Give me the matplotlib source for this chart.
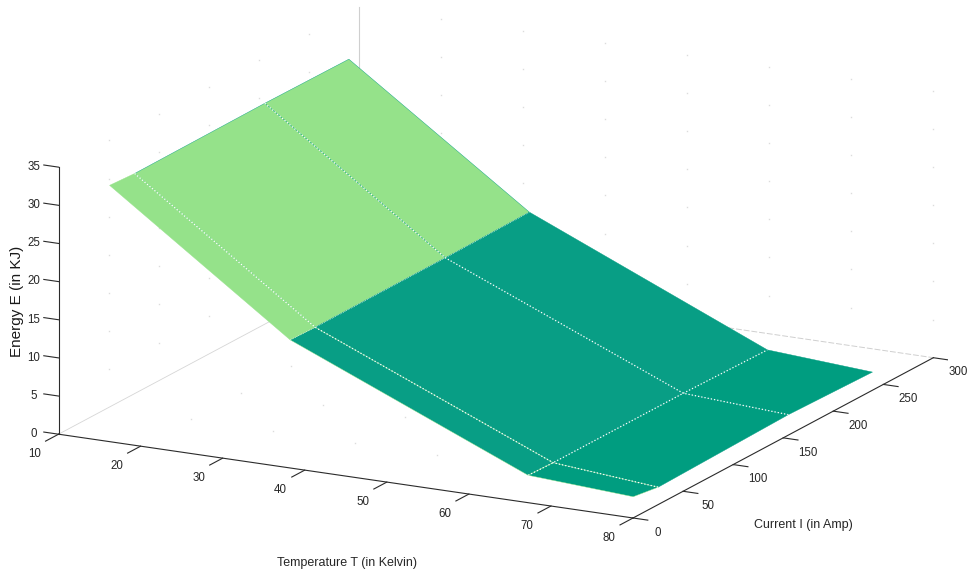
import matplotlib
matplotlib.use("Agg")
import matplotlib.pyplot as plt
import numpy as np
from matplotlib.colors import to_rgba

# surface
temps = [15, 37, 66, 78.8]
currents = [10, 35, 165, 249]
energy = [
    [32.7, 32.5, 32.6, 32.5],
    [15.9, 15.8, 15.8, 15.9],
    [2.7, 2.6, 2.6, 2.4],
    [1.9, 1.4, 1.8, 1.5],
]
# colour of each strip between two temperatures
strip_colors = ["#95e28a", "#089e85", "#009d80"]

t_ticks = [10, 20, 30, 40, 50, 60, 70, 80]
i_ticks = [0, 50, 100, 150, 200, 250, 300]
e_ticks = [0, 5, 10, 15, 20, 25, 30, 35]

plt.rcParams["font.family"] = ["Liberation Sans", "DejaVu Sans"]
text_col = "#262626"

fig = plt.figure(figsize=(9.67, 5.71), dpi=100)
ax = fig.add_axes([18.4 / 967, -169 / 571, 930 / 967, 930 / 571], projection="3d", proj_type="ortho")
ax.set_box_aspect((1, 1, 0.429))
ax.view_init(elev=16.2, azim=-62.4)
ax.set_xlim(10, 80)
ax.set_ylim(0, 300)
ax.set_zlim(0, 35)
ax.set_xticks([])
ax.set_yticks([])
ax.set_zticks([])
ax.set_axis_off()
ax.computed_zorder = False

# the grid only shows as faint specks where its lines cross
speck = dict(color="#dcdcdc", ls="none", marker="s", ms=1.0, mew=0, zorder=1)
for t in t_ticks[1:]:
    for i in i_ticks[1:-1]:
        ax.plot([t], [i], [0], **speck)
    for e in e_ticks[1:]:
        ax.plot([t], [300], [e], **speck)
for i in i_ticks[1:-1]:
    for e in e_ticks[1:]:
        ax.plot([10], [i], [e], **speck)

# back box edges
ax.plot([10, 10], [0, 300], [0, 0], color="#d6d6d6", lw=0.6, zorder=1.5)
ax.plot([10, 80], [300, 300], [0, 0], color="#cfcfcf", lw=0.7, ls=(0, (6, 2)), zorder=1.5)
ax.plot([10, 10], [300, 300], [0, 35], color="#cfcfcf", lw=0.8, zorder=1.5)

# surface
TT, II = np.meshgrid(temps, currents, indexing="ij")
EE = np.array(energy)
face = np.zeros(TT.shape + (4,))
for r in range(len(temps) - 1):
    face[r, :] = to_rgba(strip_colors[r])
surf = ax.plot_surface(TT, II, EE, facecolors=face, rstride=1, cstride=1, shade=False, zorder=2)
surf.set_edgecolor("face")
surf.set_linewidth(0.3)

# white dotted mesh lines inside the surface
dots = dict(color="white", lw=0.9, ls=(0, (1, 1.6)), zorder=3)
ax.plot(TT[1, :], II[1, :], EE[1, :], color="white", lw=0.5, ls=(0, (1, 1.6)), zorder=3)
ax.plot(TT[2, :], II[2, :], EE[2, :], **dots)
for c in [1, 2]:
    ax.plot(TT[:, c], II[:, c], EE[:, c], **dots)

# axes lines
axis_style = dict(color="#2b2b2b", lw=0.8, zorder=4)
ax.plot([10, 80], [0, 0], [0, 0], **axis_style)
ax.plot([80, 80], [0, 300], [0, 0], **axis_style)
ax.plot([10, 10], [0, 0], [0, 35], **axis_style)

for t in t_ticks:
    ax.plot([t, t], [0, -13], [0, 0], **axis_style)
    ax.text(t, -24, -0.88, str(t), fontsize=8.3, color=text_col, ha="center", va="center")
for i in i_ticks:
    ax.plot([80, 81.8], [i, i], [0, 0], **axis_style)
    ax.text(83, i, -1.45, str(i), fontsize=8.3, color=text_col, ha="center", va="center")
for e in e_ticks:
    ax.plot([10, 8.2], [0, 0], [e, e], **axis_style)
    ax.text(7.0, 0, e - 0.44, str(e), fontsize=8.3, color=text_col, ha="center", va="center")

fig.text(347 / 967, 1 - 563 / 571, "Temperature T (in Kelvin)", fontsize=9, color=text_col, ha="center", va="center")
fig.text(803 / 967, 1 - 525 / 571, "Current I (in Amp)", fontsize=9, color=text_col, ha="center", va="center")
fig.text(17 / 967, 1 - 301 / 571, "Energy E (in KJ)", fontsize=11, color="#1a1a1a", ha="center", va="center", rotation=90)

fig.savefig("out.png", dpi=100)
